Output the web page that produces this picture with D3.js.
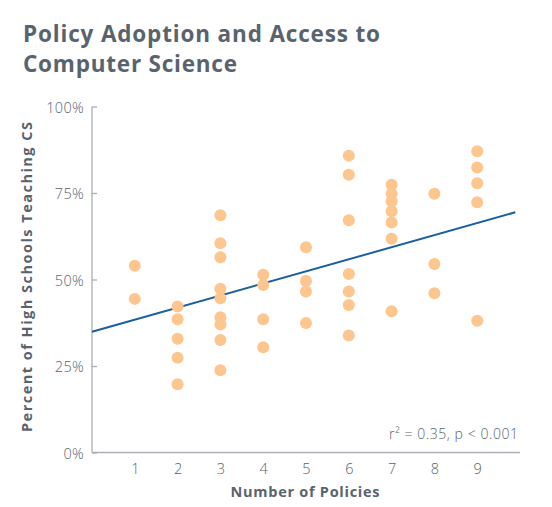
<!DOCTYPE html>
<html>
<head>
<meta charset="utf-8">
<script src="https://cdn.jsdelivr.net/npm/d3@7"></script>
<style>
  html, body { margin: 0; padding: 0; background: #fff; }
  svg { display: block; }
</style>
</head>
<body>
<svg id="chart" width="552" height="507"></svg>
<script>
// ---- Data ----
const policies = [1, 1,
  2, 2, 2, 2, 2,
  3, 3, 3, 3, 3, 3, 3, 3, 3,
  4, 4, 4, 4,
  5, 5, 5, 5,
  6, 6, 6, 6, 6, 6, 6,
  7, 7, 7, 7, 7, 7, 7,
  8, 8, 8,
  9, 9, 9, 9, 9];
const percentTeaching = [54.0, 44.4,
  42.2, 38.5, 32.9, 27.4, 19.7,
  68.6, 60.5, 56.4, 47.3, 44.6, 39.1, 37.0, 32.5, 23.8,
  51.4, 48.4, 38.5, 30.4,
  59.3, 49.6, 46.5, 37.4,
  85.8, 80.3, 67.1, 51.6, 46.5, 42.6, 33.8,
  77.4, 74.8, 72.6, 69.7, 66.5, 61.8, 40.8,
  74.8, 54.5, 46.0,
  87.1, 82.4, 77.8, 72.3, 38.1];
const xTicks = [1, 2, 3, 4, 5, 6, 7, 8, 9];
const yTicks = [0, 25, 50, 75, 100];
const fitIntercept = 34.9;
const fitSlope = 3.49;
const fitRange = [0, 9.89];
const titleLines = ["Policy Adoption and Access to", "Computer Science"];
const xTitle = "Number of Policies";
const yTitle = "Percent of High Schools Teaching CS";
const statNote = "r\u00B2 = 0.35, p < 0.001";

// ---- Drawing ----
const svg = d3.select("#chart");
const textColor = "#59636d";
const axisColor = "#a9afb5";
const font = "'Open Sans', 'Lato', sans-serif";

const x = d3.scaleLinear().domain([0, 10]).range([92, 520]);
const y = d3.scaleLinear().domain([0, 100]).range([452.5, 106.5]);

// Title
const titleWidths = [357, 214];
svg.append("g").selectAll("text").data(titleLines).join("text")
  .attr("x", 23)
  .attr("y", (d, i) => 42 + i * 30)
  .attr("font-family", font)
  .attr("font-weight", 700)
  .attr("font-size", 22.5)
  .attr("fill", textColor)
  .attr("textLength", (d, i) => titleWidths[i])
  .attr("lengthAdjust", "spacing")
  .text(d => d);

// Y axis
const yAxis = svg.append("g")
  .attr("transform", `translate(${x(0)},0)`)
  .call(d3.axisLeft(y).tickValues(yTicks).tickSize(-5).tickPadding(8)
    .tickFormat(d => d + "%"));
yAxis.select(".domain").attr("stroke", axisColor).attr("stroke-width", 1.3)
  .attr("d", `M0,${y(100)}V${y(0)}`);
yAxis.selectAll(".tick line").attr("stroke", axisColor).attr("stroke-width", 1.3)
  .attr("x1", 0).attr("x2", 5);
yAxis.selectAll(".tick text")
  .attr("x", -8)
  .attr("dy", "0.4em")
  .attr("font-family", font)
  .attr("font-weight", 300)
  .attr("font-size", 14.5)
  .attr("letter-spacing", 0.3)
  .attr("fill", textColor);

// X axis
const xAxis = svg.append("g")
  .attr("transform", `translate(0,${y(0)})`)
  .call(d3.axisBottom(x).tickValues(xTicks).tickSize(0).tickPadding(11)
    .tickFormat(d3.format("d")));
xAxis.select(".domain").attr("stroke", axisColor).attr("stroke-width", 1.3)
  .attr("d", `M${x(0)},0H${x(10)}`);
xAxis.selectAll(".tick text")
  .attr("font-family", font)
  .attr("font-weight", 300)
  .attr("font-size", 14.5)
  .attr("fill", textColor);

// Axis titles
svg.append("text")
  .attr("x", 305).attr("y", 497)
  .attr("text-anchor", "middle")
  .attr("font-family", font).attr("font-weight", 700).attr("font-size", 14.5)
  .attr("fill", textColor)
  .attr("textLength", 149).attr("lengthAdjust", "spacing")
  .text(xTitle);
svg.append("text")
  .attr("transform", "translate(32,277) rotate(-90)")
  .attr("text-anchor", "middle")
  .attr("font-family", font).attr("font-weight", 700).attr("font-size", 14.5)
  .attr("fill", textColor)
  .attr("textLength", 310).attr("lengthAdjust", "spacing")
  .text(yTitle);

// Regression line
svg.append("line")
  .attr("x1", x(fitRange[0])).attr("y1", y(fitIntercept + fitSlope * fitRange[0]))
  .attr("x2", x(fitRange[1])).attr("y2", y(fitIntercept + fitSlope * fitRange[1]))
  .attr("stroke", "#1c5f9f").attr("stroke-width", 2);

// Points
const pts = policies.map((p, i) => ({ p, v: percentTeaching[i] }));
svg.append("g").selectAll("circle").data(pts).join("circle")
  .attr("cx", d => x(d.p))
  .attr("cy", d => y(d.v))
  .attr("r", 6)
  .attr("fill", "#fdc68e");

// Stat note
svg.append("text")
  .attr("x", 518).attr("y", 438.5)
  .attr("text-anchor", "end")
  .attr("font-family", font).attr("font-weight", 300).attr("font-size", 14)
  .attr("fill", textColor)
  .attr("textLength", 129).attr("lengthAdjust", "spacing")
  .text(statNote);
</script>
</body>
</html>
